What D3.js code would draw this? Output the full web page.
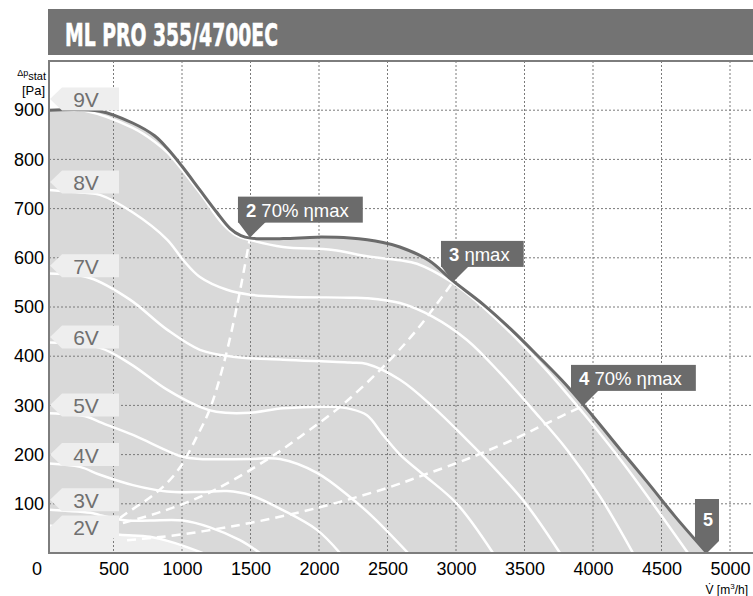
<!DOCTYPE html>
<html>
<head>
<meta charset="utf-8">
<script src="https://cdn.jsdelivr.net/npm/d3@7"></script>
<style>
  body { margin: 0; background: #fff; }
  svg { display: block; font-family: "Liberation Sans", Arial, sans-serif; }
</style>
</head>
<body>
<svg id="chart"></svg>
<script>
// values: [airflow m3/h, static pressure Pa]
const title = 'ML PRO 355/4700EC';
const xTicks = [500, 1000, 1500, 2000, 2500, 3000, 3500, 4000, 4500, 5000];
const yTicks = [100, 200, 300, 400, 500, 600, 700, 800, 900];

const maxCurve = [[30,900],[400,898],[640,874],[800,848],[900,820],[1000,786],[1130,738],[1255,692],[1350,660],[1430,645],[1500,640],[1740,639],[1985,642],[2226,640],[2467,631],[2590,622],[2800,595],[2978,553],[3200,505],[3400,455],[3600,400],[3800,343],[4000,278],[4200,210],[4400,143],[4600,74],[4832,0]];

const curve9V = [[30,902],[290,899],[640,864],[800,836],[900,812],[1130,732],[1300,668],[1400,645],[1500,636],[1737,622],[2102,616],[2350,603],[2591,595],[2715,588],[2956,553],[3197,500],[3613,386],[3927,285],[4219,183],[4693,0]];
const curve8V = [[30,738],[292,732],[401,728],[642,692],[891,637],[1007,596],[1131,561],[1328,535],[1496,525],[1737,521],[2226,519],[2350,518],[2591,508],[2832,480],[3080,433],[3321,366],[3562,291],[3810,210],[4051,115],[4292,0]];
const curve7V = [[30,568],[328,559],[620,515],[891,454],[1131,413],[1372,399],[1737,393],[2226,387],[2350,384],[2591,352],[2832,297],[3080,230],[3197,197],[3504,102],[3759,0]];
const curve6V = [[30,428],[401,417],[620,385],[891,332],[1131,297],[1250,287],[1496,285],[1737,294],[2102,297],[2226,293],[2350,280],[2467,240],[2591,200],[2759,160],[3007,100],[3270,0]];
const curve5V = [[30,284],[307,277],[401,266],[642,240],[1000,196],[1131,191],[1496,191],[1715,191],[1985,163],[2226,114],[2394,73],[2650,0]];
const curve4V = [[30,182],[255,175],[401,159],[642,138],[891,125],[1131,124],[1328,126],[1496,118],[1737,87],[1985,47],[2153,0]];
const curve3V = [[30,88],[350,81],[401,77],[599,66],[766,66],[1007,66],[1204,52],[1423,26],[1569,0]];
const curve2V = [[30,56],[300,45],[547,37],[766,33],[950,20],[1150,0]];

const speedLabels = ['9V', '8V', '7V', '6V', '5V', '4V', '3V', '2V'];
const speedTagP = [923, 754, 584, 439, 301, 200, 108, 53];
const speedCurves = [curve9V, curve8V, curve7V, curve6V, curve5V, curve4V, curve3V, curve2V];

// system lines through the marked operating points
const dashed2 = [[547,71],[600,82],[700,100],[800,120],[900,145],[1000,180],[1100,232],[1200,290],[1300,380],[1400,500],[1496,641]];
const dashed3 = [[569,61],[839,83],[1131,114],[1372,148],[1693,203],[1861,236],[2153,297],[2467,378],[2715,454],[2978,551]];
const dashed4 = [[599,26],[788,31],[1007,38],[1255,49],[1496,61],[1861,83],[2153,104],[2518,134],[2759,158],[3007,183],[3197,204],[3445,234],[3650,262],[3927,299]];

const pointNumbers = ['2', '3', '4'];
const pointTexts = [' 70% ηmax', ' ηmax', ' 70% ηmax'];
const pointValues = [[1496,641],[2978,551],[3927,299]];
const endPoint = [4832, 0];

class FanCurveChart {

    constructor(_config) {
      this.config = {
        parentElement: _config.parentElement,
        containerWidth: _config.containerWidth || 753,
        containerHeight: _config.containerHeight || 596,
        plot: _config.plot || {left: 49, right: 753, top: 61, bottom: 553}
      }
      this.initVis();
    }

    initVis() {
      let vis = this;
      const p = vis.config.plot;

      vis.xScale = d3.scaleLinear()
          .domain([0, 5000])
          .range([45, 730]);

      vis.yScale = d3.scaleLinear()
          .domain([0, 1000])
          .range([p.bottom, p.top]);

      vis.svg = d3.select(vis.config.parentElement)
          .attr('width', vis.config.containerWidth)
          .attr('height', vis.config.containerHeight);

      vis.svg.append('defs').append('clipPath')
          .attr('id', 'plot-clip')
        .append('rect')
          .attr('x', p.left)
          .attr('y', p.top)
          .attr('width', p.right - p.left)
          .attr('height', p.bottom - p.top);

      vis.line = d3.line()
          .x(d => vis.xScale(d[0]))
          .y(d => vis.yScale(d[1]))
          .curve(d3.curveCatmullRom.alpha(0.5));

      vis.area = d3.area()
          .x(d => vis.xScale(d[0]))
          .y0(vis.yScale(0))
          .y1(d => vis.yScale(d[1]))
          .curve(d3.curveCatmullRom.alpha(0.5));

      vis.plotG = vis.svg.append('g').attr('clip-path', 'url(#plot-clip)');
    }

    renderVis() {
      let vis = this;
      const p = vis.config.plot;

      // title bar
      vis.svg.append('rect')
          .attr('x', 48).attr('y', 9)
          .attr('width', vis.config.containerWidth - 48).attr('height', 46)
          .attr('fill', '#737373');
      vis.svg.append('text')
          .attr('x', 65).attr('y', 46)
          .attr('fill', '#fff')
          .attr('font-family', '"Liberation Sans Narrow", "DejaVu Sans Condensed", sans-serif')
          .attr('font-weight', 'bold')
          .attr('font-size', 32)
          .attr('stroke', '#fff')
          .attr('stroke-width', 0.6)
          .attr('textLength', 213)
          .attr('lengthAdjust', 'spacingAndGlyphs')
          .text(title);

      // working range fill
      vis.plotG.append('path')
          .datum(maxCurve)
          .attr('d', vis.area)
          .attr('fill', '#d9d9d9');
      vis.plotG.append('path')
          .datum(curve2V)
          .attr('d', vis.area)
          .attr('fill', '#eeeeee');

      // dotted grid
      vis.plotG.append('g').selectAll('line')
          .data(xTicks)
        .join('line')
          .attr('x1', d => vis.xScale(d)).attr('x2', d => vis.xScale(d))
          .attr('y1', p.top).attr('y2', p.bottom);
      vis.plotG.append('g').selectAll('line')
          .data(yTicks)
        .join('line')
          .attr('x1', p.left).attr('x2', p.right)
          .attr('y1', d => vis.yScale(d)).attr('y2', d => vis.yScale(d));
      vis.plotG.selectAll('g line')
          .attr('stroke', '#7a7a7a')
          .attr('stroke-width', 1)
          .attr('stroke-dasharray', '2,2');

      // speed curves
      vis.plotG.append('g').selectAll('path')
          .data(speedCurves)
        .join('path')
          .attr('d', vis.line)
          .attr('fill', 'none')
          .attr('stroke', '#fff')
          .attr('stroke-width', 2.5);

      vis.plotG.append('g').selectAll('path')
          .data([dashed2, dashed3, dashed4])
        .join('path')
          .attr('d', vis.line)
          .attr('fill', 'none')
          .attr('stroke', '#fff')
          .attr('stroke-width', 2.5)
          .attr('stroke-dasharray', '9,6');

      vis.plotG.append('path')
          .datum(maxCurve)
          .attr('d', vis.line)
          .attr('fill', 'none')
          .attr('stroke', '#6b6b6b')
          .attr('stroke-width', 3);

      // speed tags on the left
      const tags = vis.svg.append('g').selectAll('g')
          .data(speedLabels)
        .join('g')
          .attr('transform', (d, i) => `translate(0,${vis.yScale(speedTagP[i])})`);
      tags.append('polygon')
          .attr('points', '50,0 62,-11.5 119,-11.5 119,11.5 62,11.5')
          .attr('fill', '#eeeeee');
      tags.append('text')
          .attr('x', 86).attr('y', 8)
          .attr('text-anchor', 'middle')
          .attr('font-size', 21)
          .attr('fill', '#707070')
          .text(d => d);

      // operating point callouts
      pointValues.forEach((pt, i) => {
        const ax = vis.xScale(pt[0]);
        const ay = vis.yScale(pt[1]);
        const left = ax - 12;
        const bottom = ay - 15;
        const g = vis.svg.append('g');
        const box = g.append('rect').attr('fill', '#6b6b6b');
        g.append('polygon')
            .attr('points', `${left},${bottom - 1} ${left + 28},${bottom - 1} ${ax},${ay}`)
            .attr('fill', '#6b6b6b');
        const t = g.append('text')
            .attr('x', left + 8).attr('y', bottom - 6)
            .attr('font-size', 18.5)
            .attr('fill', '#fff');
        t.append('tspan').attr('font-weight', 'bold').text(pointNumbers[i]);
        t.append('tspan').text(pointTexts[i]);
        const w = t.node().getComputedTextLength();
        box.attr('x', left).attr('y', bottom - 26)
            .attr('width', w + 22).attr('height', 26);
      });

      // end point 5
      const ex = vis.xScale(endPoint[0]);
      const ey = vis.yScale(endPoint[1]);
      vis.svg.append('polygon')
          .attr('points', `${ex - 12},${ey - 54} ${ex + 12},${ey - 54} ${ex + 12},${ey - 12} ${ex},${ey} ${ex - 12},${ey - 12}`)
          .attr('fill', '#6b6b6b');
      vis.svg.append('text')
          .attr('x', ex + 1).attr('y', ey - 27)
          .attr('text-anchor', 'middle')
          .attr('font-size', 18)
          .attr('font-weight', 'bold')
          .attr('fill', '#fff')
          .text('5');

      // frame
      vis.svg.append('path')
          .attr('d', `M${p.right},${p.top}H${p.left}V${p.bottom}H${p.right}`)
          .attr('fill', 'none')
          .attr('stroke', '#7d7d7d')
          .attr('stroke-width', 2);

      // axes
      vis.xAxisG = vis.svg.append('g')
          .attr('transform', `translate(0,${p.bottom})`)
          .call(d3.axisBottom(vis.xScale).tickValues(xTicks).tickFormat(d3.format('d')).tickSize(0).tickPadding(9))
          .call(g => g.select('.domain').remove());
      vis.yAxisG = vis.svg.append('g')
          .attr('transform', `translate(${p.left},0)`)
          .call(d3.axisLeft(vis.yScale).tickValues(yTicks).tickFormat(d3.format('d')).tickSize(0).tickPadding(5))
          .call(g => g.select('.domain').remove());
      vis.svg.selectAll('.tick text')
          .attr('font-size', 18)
          .attr('font-family', '"Liberation Sans", Arial, sans-serif')
          .attr('fill', '#000');

      vis.svg.append('text')
          .attr('x', vis.xScale(0) - 8).attr('y', p.bottom + 22)
          .attr('text-anchor', 'middle')
          .attr('font-size', 18)
          .text('0');

      // axis titles
      const yt = vis.svg.append('text')
          .attr('x', 46).attr('y', 79)
          .attr('text-anchor', 'end');
      yt.append('tspan').attr('font-size', 9).attr('dy', -3).text('Δp');
      yt.append('tspan').attr('font-size', 11).attr('dy', 4).text('stat');
      vis.svg.append('text')
          .attr('x', 45).attr('y', 95)
          .attr('text-anchor', 'end')
          .attr('font-size', 13)
          .text('[Pa]');

      const xt = vis.svg.append('text')
          .attr('x', 748).attr('y', 594)
          .attr('text-anchor', 'end')
          .attr('font-size', 12);
      xt.append('tspan').text('V\u0307 [m');
      xt.append('tspan').attr('font-size', 8).attr('dy', -5).text('3');
      xt.append('tspan').attr('dy', 5).text('/h]');
    }
}

const chart = new FanCurveChart({parentElement: '#chart'});
chart.renderVis();
</script>
</body>
</html>
